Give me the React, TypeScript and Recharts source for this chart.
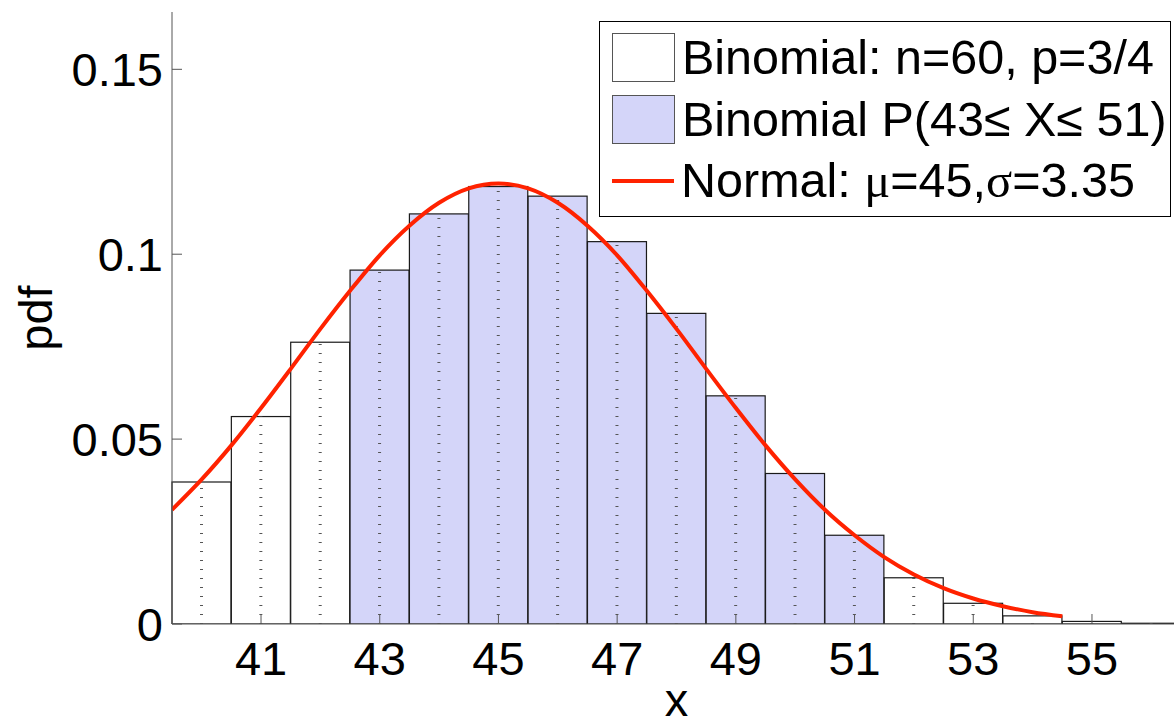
import { ComposedChart, Bar, Line, XAxis, YAxis, Cell, Legend, Label } from 'recharts'

// binomial n=60, p=3/4 probabilities
const outcomes = [40, 41, 42, 43, 44, 45, 46, 47, 48, 49, 50, 51, 52, 53, 54, 55, 56]
const pmf = [
  0.0384, 0.0561, 0.0762, 0.0957, 0.1109, 0.1183, 0.1157, 0.1034, 0.084,
  0.0617, 0.0407, 0.024, 0.0125, 0.0056, 0.0022, 0.0007, 0.0002,
]

// normal curve (mu=45, sigma=3.35) sampled every half unit
const curveX = [
  39.5, 40, 40.5, 41, 41.5, 42, 42.5, 43, 43.5, 44, 44.5, 45, 45.5, 46, 46.5, 47,
  47.5, 48, 48.5, 49, 49.5, 50, 50.5, 51, 51.5, 52, 52.5, 53, 53.5, 54, 54.5,
]
const curveY = [
  0.0309, 0.0391, 0.0483, 0.0584, 0.069, 0.0798, 0.0901, 0.0997, 0.1077, 0.1139,
  0.1178, 0.1191, 0.1178, 0.1139, 0.1077, 0.0997, 0.0901, 0.0798, 0.069, 0.0584,
  0.0483, 0.0391, 0.0309, 0.024, 0.0181, 0.0134, 0.0097, 0.0069, 0.0048, 0.0032,
  0.0021,
]

const xTicks = [41, 43, 45, 47, 49, 51, 53, 55]
const yTicks = [0, 0.05, 0.1, 0.15]
const rangeLow = 43
const rangeHigh = 51

const FONT = '"Liberation Sans", Arial, Helvetica, sans-serif'
const SYMBOL_FONT = '"Liberation Serif", "DejaVu Serif", serif'
const RED = '#ff2200'
const LAVENDER = '#d4d5f9'
const AXIS = '#555'

const bars = outcomes.map((k, i) => ({ k, p: pmf[i] }))
const curve = curveX.map((x, i) => ({ x, y: curveY[i] }))

function BinBar(props: any) {
  const { x, y, width, height, fill } = props
  const cx = x + width / 2
  return (
    <g>
      <rect x={x} y={y} width={width} height={height} fill={fill} stroke="#1a1a1a" strokeWidth={1.2} />
      <line x1={cx} x2={cx} y1={y + height} y2={y} stroke="#555" strokeWidth={3} strokeDasharray="1 8" />
    </g>
  )
}

function PdfLabel(props: any) {
  const vb = props.viewBox
  const cy = vb.y + vb.height / 2
  const bx = 52
  return (
    <text
      x={bx}
      y={cy}
      transform={`rotate(-90 ${bx} ${cy})`}
      textAnchor="middle"
      fontFamily={FONT}
      fontSize={47}
      fill="#000"
    >
      pdf
    </text>
  )
}

function LegendBox() {
  const row = { display: 'flex', alignItems: 'center', height: 62, paddingLeft: 12 } as const
  const text = { marginLeft: 7, whiteSpace: 'nowrap', lineHeight: 1 } as const
  return (
    <div
      style={{
        width: 570,
        height: 186,
        paddingTop: 4,
        paddingBottom: 4,
        border: '1.5px solid #000',
        background: '#fff',
        fontFamily: FONT,
        fontSize: 48.5,
        color: '#000',
      }}
    >
      <div style={row}>
        <div style={{ width: 61, height: 47, border: '1px solid #555', background: '#fff' }} />
        <span style={text}>Binomial: n=60, p=3/4</span>
      </div>
      <div style={row}>
        <div style={{ width: 61, height: 47, border: '1px solid #555', background: LAVENDER }} />
        <span style={text}>Binomial P(43≤ X≤ 51)</span>
      </div>
      <div style={row}>
        <div style={{ width: 62, height: 4, background: RED }} />
        <span style={text}>
          Normal: <span style={{ fontFamily: SYMBOL_FONT }}>μ</span>=45,
          <span style={{ fontFamily: SYMBOL_FONT }}>σ</span>=3.35
        </span>
      </div>
    </div>
  )
}

export default function App() {
  return (
    <div style={{ position: 'absolute', left: 0, top: 0, width: 1174, height: 721, overflow: 'hidden', background: '#fff' }}>
      <ComposedChart
        width={1190}
        height={721}
        data={bars}
        margin={{ top: 12, right: 9, left: 0, bottom: 0 }}
        barCategoryGap={0}
        barGap={0}
      >
        <XAxis xAxisId="cat" dataKey="k" type="category" height={0} hide />
        <XAxis
          xAxisId="num"
          dataKey="x"
          type="number"
          domain={[39.5, 56.5]}
          allowDataOverflow
          ticks={xTicks}
          height={97}
          tickSize={-10}
          tickMargin={28}
          stroke={AXIS}
          tick={{ fill: '#000', fontSize: 47, fontFamily: FONT }}
        >
          <Label value="x" position="insideBottom" offset={5} fontSize={47} fontFamily={FONT} fill="#000" />
        </XAxis>
        <YAxis
          type="number"
          domain={[0, 0.1655]}
          allowDataOverflow
          ticks={yTicks}
          width={172}
          tickSize={-10}
          tickMargin={19}
          stroke={AXIS}
          tickFormatter={(v: number) => String(v)}
          tick={{ fill: '#000', fontSize: 47, fontFamily: FONT }}
        >
          <Label content={<PdfLabel />} />
        </YAxis>
        <Bar xAxisId="cat" dataKey="p" shape={<BinBar />} isAnimationActive={false}>
          {bars.map((b, i) => (
            <Cell key={`bin-${i}`} fill={b.k >= rangeLow && b.k <= rangeHigh ? LAVENDER : '#fff'} />
          ))}
        </Bar>
        <Line
          xAxisId="num"
          data={curve}
          dataKey="y"
          type="monotone"
          stroke={RED}
          strokeWidth={4}
          dot={false}
          activeDot={false}
          isAnimationActive={false}
        />
        <Legend
          layout="vertical"
          align="center"
          verticalAlign="middle"
          content={<LegendBox />}
          wrapperStyle={{ top: 21, left: 599, width: 'auto' }}
        />
      </ComposedChart>
    </div>
  )
}
